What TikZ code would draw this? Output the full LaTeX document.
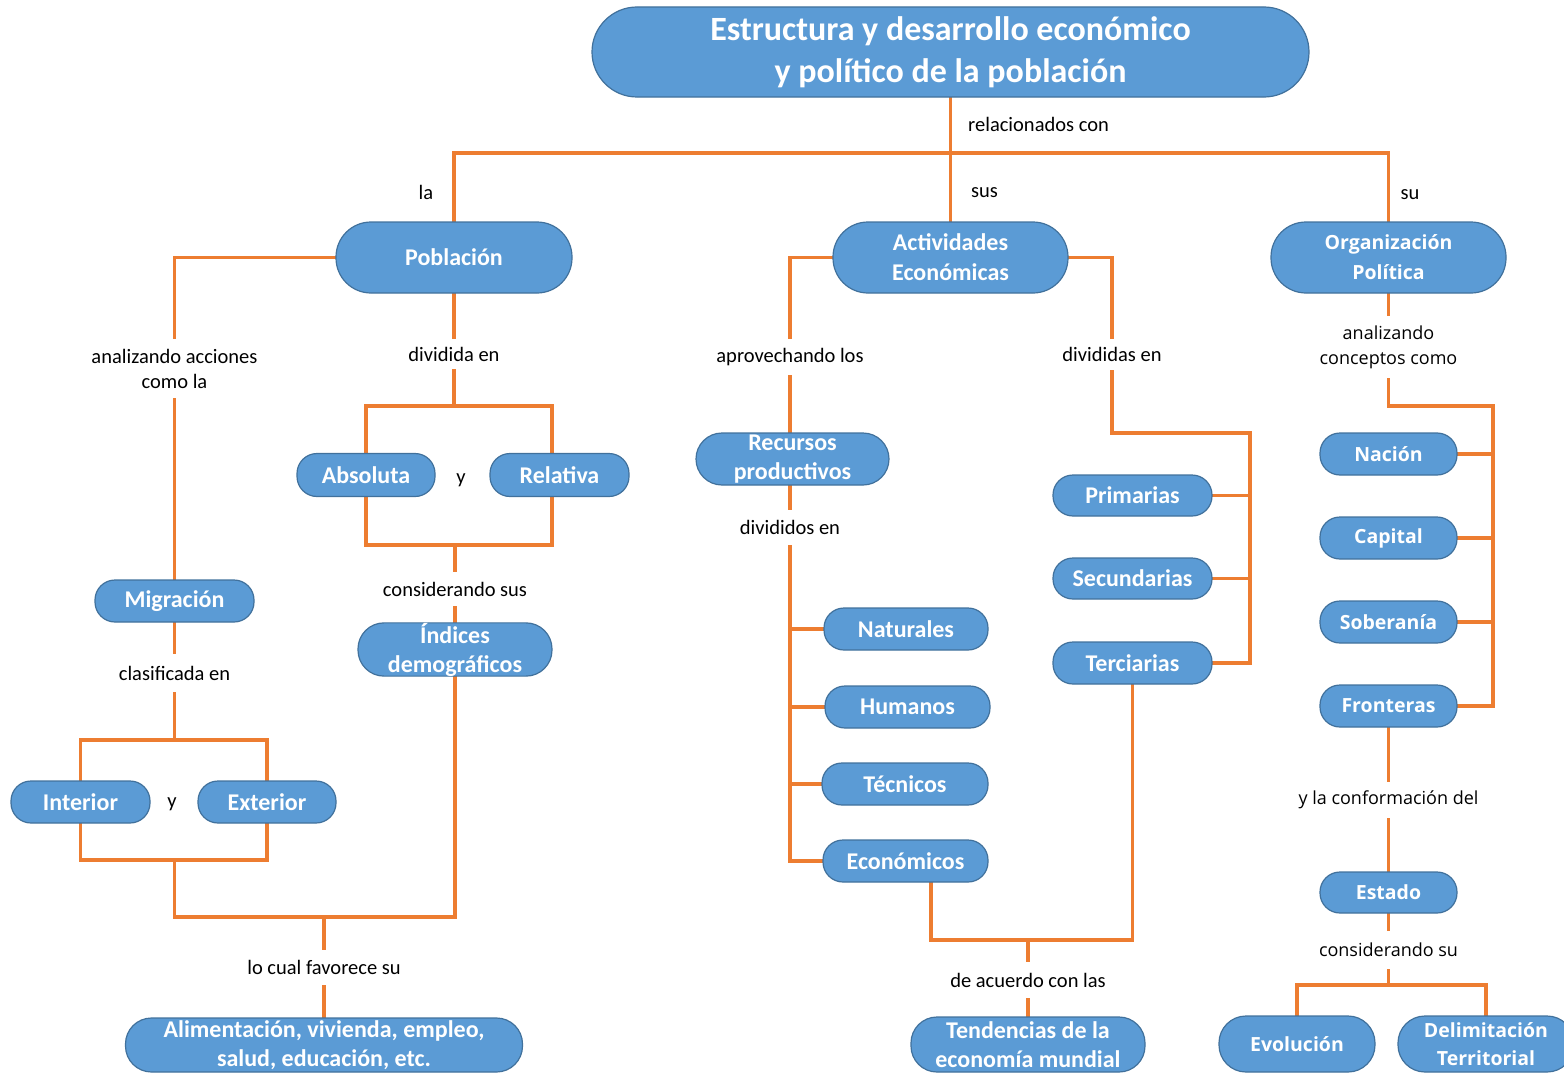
\documentclass[tikz,border=0pt]{standalone}
\usepackage{fontspec}
\setmainfont{Carlito}
\newfontfamily\osans{Open Sans}
\definecolor{boxfill}{HTML}{5B9BD5}
\definecolor{boxline}{HTML}{41719C}
\definecolor{linkcol}{HTML}{ED7D31}
\pgfdeclarelayer{bg}
\pgfsetlayers{bg,main}
\tikzset{
  box/.style={draw=boxline, fill=boxfill, line width=1.2pt, text=white, inner sep=0pt,
    align=center, font=\bfseries\fontsize{24}{29}\selectfont, minimum height=42, rounded corners=20},
  twobox/.style={box, rounded corners=26},
  midbox/.style={box, minimum height=71, rounded corners=35, font=\bfseries\fontsize{24}{30}\selectfont},
  rbox/.style={box, font=\osans\bfseries\fontsize{19.5}{28}\selectfont},
  lbl/.style={inner sep=0pt, align=center, text=black, font=\fontsize{20.5}{25}\selectfont},
  rlbl/.style={lbl, font=\osans\fontsize{18}{25}\selectfont},
  link/.style={draw=linkcol, line width=3.5pt, line cap=rect}
}
\begin{document}
\begin{tikzpicture}[x=1pt,y=-1pt]
\useasboundingbox (0,0) rectangle (1564,1073);
% ---------- boxes ----------
\node[box, minimum width=717, minimum height=90, rounded corners=45,
      font=\bfseries\fontsize{34}{42}\selectfont] (title) at (950.5,52)
      {Estructura y desarrollo económico\\y político de la población};
\node[midbox, minimum width=236] (pob) at (454,257.5) {Población};
\node[midbox, minimum width=235] (act) at (950.5,257.5) {Actividades\\Económicas};
\node[midbox, minimum width=235, font=\osans\bfseries\fontsize{19.5}{30}\selectfont] (org) at (1388.5,257.5) {Organización\\Política};

\node[box, minimum width=138, minimum height=43] (abs) at (366,475) {Absoluta};
\node[box, minimum width=139, minimum height=43] (rel) at (559.5,475) {Relativa};
\node[twobox, minimum width=194, minimum height=53] (ind) at (455,649.5) {Índices\\demográficos};
\node[box, minimum width=159] (mig) at (174.5,601) {Migración};
\node[box, minimum width=139] (int) at (80.5,802) {Interior};
\node[box, minimum width=138] (ext) at (267,802) {Exterior};
\node[twobox, minimum width=397, minimum height=54] (alim) at (324,1045) {Alimentación, vivienda, empleo,\\salud, educación, etc.};

\node[twobox, minimum width=193, minimum height=52] (rec) at (792.5,459) {Recursos\\productivos};
\node[box, minimum width=164] (nat) at (906,629) {Naturales};
\node[box, minimum width=165] (hum) at (907.5,707) {Humanos};
\node[box, minimum width=166] (tec) at (905,784) {Técnicos};
\node[box, minimum width=165] (eco) at (905.5,861) {Económicos};
\node[box, minimum width=159, minimum height=41] (pri) at (1132.5,495.5) {Primarias};
\node[box, minimum width=159, minimum height=41] (sec) at (1132.5,578.5) {Secundarias};
\node[box, minimum width=159] (ter) at (1132.5,663) {Terciarias};
\node[twobox, minimum width=234, minimum height=55] (ten) at (1028,1044.5) {Tendencias de la\\economía mundial};

\node[rbox, minimum width=137] (nac) at (1388.5,454) {Nación};
\node[rbox, minimum width=137] (cap) at (1388.5,538) {Capital};
\node[rbox, minimum width=137] (sob) at (1388.5,622) {Soberanía};
\node[rbox, minimum width=137] (fro) at (1388.5,706) {Fronteras};
\node[rbox, minimum width=137, minimum height=41] (est) at (1388.5,892.5) {Estado};
\node[rbox, minimum width=156, minimum height=56, rounded corners=27] (evo) at (1297,1044) {Evolución};
\node[rbox, minimum width=176, minimum height=56, rounded corners=27] (del) at (1486,1044) {Delimitación\\Territorial};

% ---------- labels ----------
\node[lbl, anchor=west] (lrel) at (968,124) {relacionados con};
\node[lbl] (lla) at (426,192) {la};
\node[lbl, anchor=west] (lsus) at (971,192.5) {sus};
\node[lbl] (lsu) at (1410,194.5) {su};
\node[lbl, minimum height=63] (lan) at (174.5,368.5) {analizando acciones\\como la};
\node[lbl, minimum height=33] (ldiv) at (454,354) {dividida en};
\node[lbl] (ly1) at (461,480) {y};
\node[lbl, minimum height=38] (lcons) at (455,589) {considerando sus};
\node[lbl, minimum height=41] (lclas) at (174.5,673) {clasificada en};
\node[lbl] (ly2) at (172,804) {y};
\node[lbl, minimum height=39] (lfav) at (324,967.5) {lo cual favorece su};
\node[lbl, minimum height=39] (lapro) at (790,357) {aprovechando los};
\node[lbl, minimum height=39] (ldivs) at (790,527.5) {divididos en};
\node[lbl, minimum height=35] (ldivd) at (1112,354.5) {divididas en};
\node[lbl, minimum height=39] (lacu) at (1028,980) {de acuerdo con las};
\node[rlbl, minimum height=66] (lconc) at (1388.5,347) {analizando\\conceptos como};
\node[rlbl, minimum height=40] (lconf) at (1388.5,800) {y la conformación del};
\node[rlbl, minimum height=41] (lcons2) at (1388.5,950) {considerando su};

% ---------- junctions ----------
\coordinate (jtop) at (950.5,153);
\coordinate (jdiv) at (454,406);
\coordinate (jdivr) at (552,406);
\coordinate (jcons) at (455,545);
\coordinate (jbr) at (552,545);
\coordinate (jmigt) at (174.5,740);
\coordinate (jmigb) at (174.5,860);
\coordinate (jal) at (324,917);
\coordinate (jpri) at (1250,433);
\coordinate (jeco) at (931,940);
\coordinate (jten) at (1028,940);
\coordinate (jnac) at (1493,406);
\coordinate (jest) at (1388.5,985);

% ---------- connectors ----------
\begin{pgfonlayer}{bg}
\draw[link] (title) -- (act);
\draw[link] (pob) |- (jtop) -| (org);
% Poblacion
\draw[link] (pob) -| (lan);
\draw[link] (lan) -- (mig);
\draw[link] (mig) -- (lclas);
\draw[link] (lclas) -- (jmigt);
\draw[link] (int) |- (jmigt) -| (ext);
\draw[link] (int) |- (jmigb) -| (ext);
\draw[link] (jmigb) |- (jal) -| (ind);
\draw[link] (jal) -- (lfav) -- (alim);
\draw[link] (pob) -- (ldiv);
\draw[link] (ldiv) -- (jdiv);
\draw[link] (abs) |- (jdivr) -- (jdivr |- rel.north);
\draw[link] (abs) |- (jbr) -- (jbr |- rel.south);
\draw[link] (jcons) -- (lcons) -- (ind);
% Actividades
\draw[link] (act) -| (lapro);
\draw[link] (lapro) -- (lapro |- rec.north);
\draw[link] (rec.south -| ldivs) -- (ldivs);
\draw[link] (ldivs) |- (nat);
\draw[link] (ldivs) |- (hum);
\draw[link] (ldivs) |- (tec);
\draw[link] (ldivs) |- (eco);
\draw[link] (act) -| (ldivd);
\draw[link] (ldivd) |- (jpri);
\draw[link] (jpri) |- (pri);
\draw[link] (jpri) |- (sec);
\draw[link] (jpri) |- (ter);
\draw[link] (ter) |- (jeco) -- (jeco |- eco.south);
\draw[link] (jten) -- (lacu) -- (ten);
% Organizacion
\draw[link] (org) -- (lconc);
\draw[link] (lconc) |- (jnac);
\draw[link] (jnac) |- (nac);
\draw[link] (jnac) |- (cap);
\draw[link] (jnac) |- (sob);
\draw[link] (jnac) |- (fro);
\draw[link] (fro) -- (lconf) -- (est);
\draw[link] (est) -- (lcons2) -- (jest);
\draw[link] (evo) |- (jest) -| (del);
\end{pgfonlayer}
\end{tikzpicture}
\end{document}
